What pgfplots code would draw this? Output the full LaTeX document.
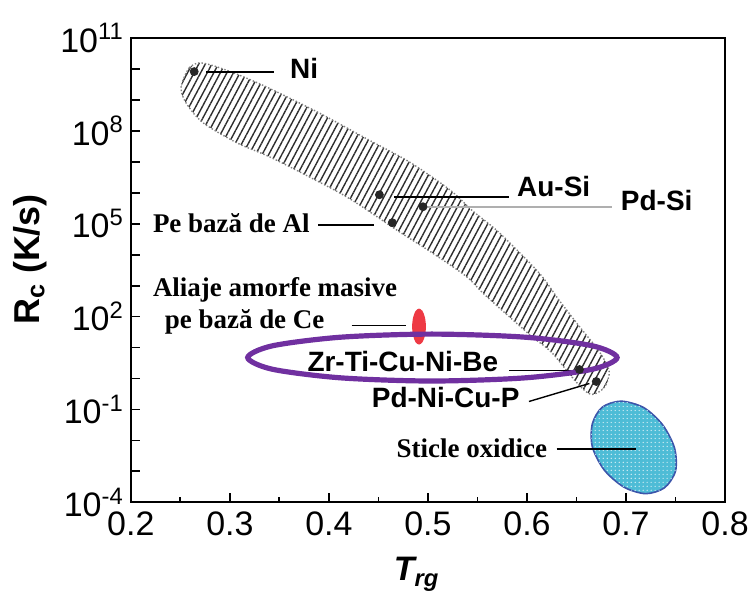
\documentclass[border=0pt]{standalone}
\usepackage{pgfplots}
\pgfplotsset{compat=1.18}
\usepackage{fontspec}
\setmainfont{Liberation Sans}
\newfontfamily\tnr{Liberation Serif}
\usetikzlibrary{patterns,patterns.meta}
\definecolor{purp}{RGB}{112,48,160}
\definecolor{redell}{RGB}{238,58,68}
\definecolor{bluefill}{RGB}{78,188,214}
\definecolor{blueedge}{RGB}{60,85,170}
\definecolor{grayline}{RGB}{175,175,175}
\pgfplotstableread{
x y
0.252 3.81e9
0.259 1.08e10
0.269 1.56e10
0.284 1.25e10
0.309 6.40e9
0.339 2.44e9
0.390 3.81e8
0.440 5.13e7
0.481 1.0e7
0.522 1.25e6
0.545 2.62e5
0.572 5.13e4
0.612 2.62e3
0.632 353
0.653 47.5
0.673 7.43
0.683 1.68
0.678 0.513
0.665 0.305
0.651 0.690
0.625 6.90
0.605 22.6
0.582 100
0.555 594
0.539 1.95e3
0.504 1.16e4
0.471 5.52e4
0.421 6.40e5
0.380 3.28e6
0.340 1.45e7
0.307 4.10e7
0.273 1.81e8
0.257 6.90e8
0.251 1.81e9
}\band
\pgfplotstableread{
x y
0.739 2.98e-4
0.720 1.91e-4
0.698 3.09e-4
0.678 1.11e-3
0.666 6.22e-3
0.666 3.43e-2
0.676 0.1186
0.695 0.1854
0.718 0.1143
0.737 3.18e-2
0.749 5.69e-3
0.750 1.03e-3
}\oxide
\begin{document}
\begin{tikzpicture}
\begin{axis}[
  name=main,
  scale only axis,
  width=297.5pt, height=232.5pt,
  xmin=0.2, xmax=0.8,
  ymode=log, ymin=1e-4, ymax=1e11,
  axis line style={line width=1pt},
  tick align=inside, tick pos=left,
  xtick={0.2,0.3,0.4,0.5,0.6,0.7,0.8},
  xticklabels={0.2,0.3,0.4,0.5,0.6,0.7,0.8},
  minor xtick={0.25,0.35,0.45,0.55,0.65,0.75},
  ytick={1e-4,1e-1,1e2,1e5,1e8,1e11},
  yticklabels={10\textsuperscript{-4},10\textsuperscript{-1},10\textsuperscript{2},10\textsuperscript{5},10\textsuperscript{8},10\textsuperscript{11}},
  minor ytick={},
  extra y ticks={1e-3,1e-2,1,1e1,1e3,1e4,1e6,1e7,1e9,1e10},
  extra y tick labels={},
  extra tick style={major tick length=4.5pt},
  major tick length=4.5pt, minor tick length=2.5pt,
  every tick/.style={black, line width=0.9pt},
  tick label style={font=\fontsize{17}{20}\selectfont},
  xticklabel style={yshift=-1pt},
  xlabel={\bfseries\itshape T\textsubscript{rg}},
  xlabel style={font=\fontsize{17}{20}\selectfont, at={(axis description cs:0.481,-0.155)}, anchor=center},
  ylabel={\bfseries R\textsubscript{c} (K/s)},
  ylabel style={font=\fontsize{18}{21}\selectfont, at={(axis description cs:-0.170,0.523)}, anchor=center},
  clip=false,
]
% hatched band
\addplot[smooth cycle, draw=none,
  pattern={Lines[angle=62,distance=2.9pt,line width=0.7pt]}, pattern color=black!82]
  table {\band};
\addplot[smooth cycle, draw=black!50, densely dotted, line width=0.7pt, fill=none]
  table {\band};
% red ellipse (Ce)
\addplot[smooth cycle, draw=none, fill=redell]
coordinates {
(0.498,47.5) (0.497,92.9) (0.4945,151.7) (0.491,181.1) (0.4875,151.7) (0.485,92.9)
(0.484,47.5) (0.485,24.4) (0.4875,14.9) (0.491,12.5) (0.4945,14.9) (0.497,24.4)};
% blue ellipse (oxide glasses)
\addplot[smooth cycle, draw=blueedge, line width=0.8pt, fill=bluefill] table {\oxide};
\addplot[smooth cycle, draw=none, pattern={Dots[distance=2pt,radius=0.35pt]}, pattern color=white!75!bluefill] table {\oxide};
% leader lines
\addplot[black, line width=0.9pt] coordinates {(0.276,8.0e9) (0.345,8.0e9)};
\addplot[black, line width=0.9pt] coordinates {(0.466,7.43e5) (0.582,7.43e5)};
\addplot[grayline, line width=1.2pt] coordinates {(0.499,3.53e5) (0.686,3.53e5)};
\addplot[black, line width=0.9pt] coordinates {(0.389,9.29e4) (0.446,9.29e4)};
\addplot[black, line width=0.9pt] coordinates {(0.423,51.3) (0.478,51.3)};
\addplot[black, line width=0.9pt] coordinates {(0.582,1.81) (0.650,1.81)};
\addplot[black, line width=0.7pt] coordinates {(0.602,0.181) (0.663,0.69)};
\addplot[black, line width=1pt] coordinates {(0.630,5.13e-3) (0.710,5.13e-3)};
% data points
\addplot[only marks, mark=*, mark size=2pt, mark options={fill=black!85, draw=black!85}]
coordinates {(0.264,8.18e9) (0.451,8.61e5) (0.495,3.53e5) (0.464,1.08e5) (0.653,1.95) (0.670,0.80)};
% purple highlight ellipse
\addplot[smooth cycle, draw=purp, line width=2.6pt, fill=none]
coordinates {
(0.691,4.75) (0.666,11.38) (0.598,21.6) (0.504,27.2) (0.412,21.6) (0.343,11.38)
(0.318,4.75) (0.343,1.99) (0.412,1.05) (0.504,0.830) (0.598,1.05) (0.666,1.99)};
% labels
\node[font=\fontsize{14}{16}\selectfont\bfseries] at (axis cs:0.375,1.08e10) {Ni};
\node[font=\fontsize{14}{16}\selectfont\bfseries] at (axis cs:0.627,1.56e6) {Au-Si};
\node[font=\fontsize{14}{16}\selectfont\bfseries] at (axis cs:0.731,5.52e5) {Pd-Si};
\node[anchor=west, inner sep=0pt, font=\tnr\fontsize{13.5}{16}\selectfont\bfseries] at (axis cs:0.222,1.08e5) {Pe bază de Al};
\node[anchor=west, inner sep=0pt, font=\tnr\fontsize{13.5}{16}\selectfont\bfseries] at (axis cs:0.222,743) {Aliaje amorfe masive};
\node[anchor=west, inner sep=0pt, font=\tnr\fontsize{13.5}{16}\selectfont\bfseries] at (axis cs:0.234,69.0) {pe bază de Ce};
\node[anchor=west, inner sep=0pt, font=\fontsize{14}{16}\selectfont\bfseries] at (axis cs:0.378,3.53) {Zr-Ti-Cu-Ni-Be};
\node[anchor=west, inner sep=0pt, font=\fontsize{14}{16}\selectfont\bfseries] at (axis cs:0.443,0.244) {Pd-Ni-Cu-P};
\node[anchor=west, inner sep=0pt, font=\tnr\fontsize{13.5}{16}\selectfont\bfseries] at (axis cs:0.468,5.52e-3) {Sticle oxidice};
\end{axis}
\pgfresetboundingbox
\path ([shift={(-65.5pt,-48pt)}]main.south west) rectangle ([shift={(13.5pt,19pt)}]main.north east);
\end{tikzpicture}
\end{document}
